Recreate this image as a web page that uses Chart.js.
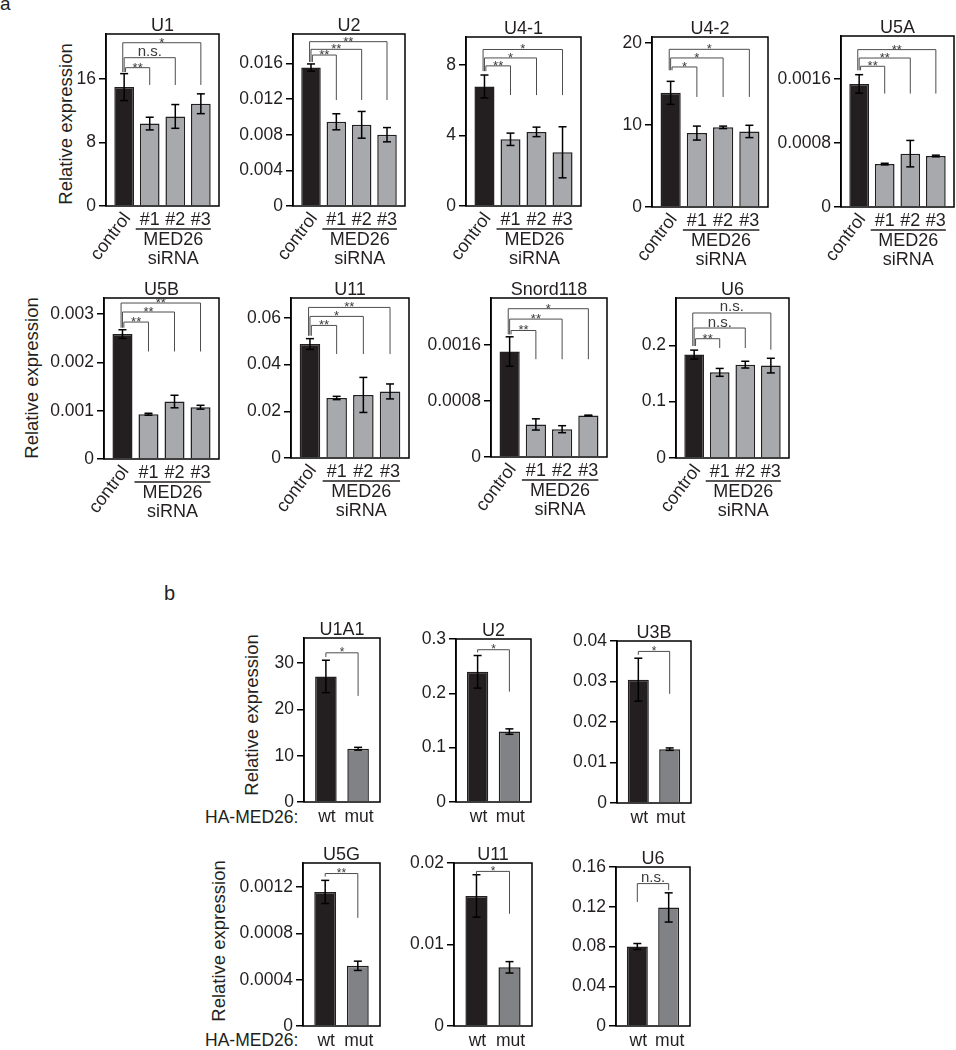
<!DOCTYPE html>
<html><head><meta charset="utf-8">
<script src="https://cdn.jsdelivr.net/npm/chart.js@4"></script>
<style>
body{margin:0;background:#fff;width:956px;height:1050px;position:relative;overflow:hidden;font-family:'Liberation Sans',Arial,sans-serif;color:#231f20}
canvas{position:absolute}
.t{position:absolute;white-space:nowrap;line-height:1}
.yt{position:absolute;width:220px;height:22px;line-height:22px;text-align:center;font-size:18.5px;transform:rotate(-90deg);white-space:nowrap}
</style></head><body>
<div class="t" style="left:0;top:-6px;font-size:19px">a</div>
<div class="t" style="left:164px;top:583px;font-size:20px">b</div>
<div class="yt" style="left:-44.5px;top:112.5px">Relative expression</div>
<div class="yt" style="left:-78.3px;top:366.5px">Relative expression</div>
<div class="yt" style="left:141.5px;top:703.5px">Relative expression</div>
<div class="yt" style="left:108.5px;top:930px">Relative expression</div>
<div class="t" style="left:205px;top:808.5px;font-size:17.5px">HA-MED26:</div>
<div class="t" style="left:205px;top:1031.5px;font-size:17.5px">HA-MED26:</div>
<script>
// ---------- categories ----------
const siCategories = ['control', '#1', '#2', '#3'];
const siGroupLabel = ['MED26', 'siRNA'];
const haCategories = ['wt', 'mut'];

// ---------- panel a : MED26 siRNA ----------
const u1Values = [15.0, 10.4, 11.3, 12.9];
const u1Errors = [1.7, 0.8, 1.5, 1.25];
const u1Ticks = ['0', '8', '16'];
const u1Sig = ['**', 'n.s.', '*'];

const u2Values = [0.01554, 0.00945, 0.00911, 0.0080];
const u2Errors = [0.0004, 0.0009, 0.0015, 0.0008];
const u2Ticks = ['0', '0.004', '0.008', '0.012', '0.016'];
const u2Sig = ['**', '**', '**'];

const u41Values = [6.79, 3.79, 4.21, 3.05];
const u41Errors = [0.65, 0.35, 0.27, 1.45];
const u41Ticks = ['0', '4', '8'];
const u41Sig = ['**', '*', '*'];

const u42Values = [13.9, 9.0, 9.7, 9.2];
const u42Errors = [1.4, 0.85, 0.15, 0.75];
const u42Ticks = ['0', '10', '20'];
const u42Sig = ['*', '*', '*'];

const u5aValues = [0.001537, 0.000536, 0.000666, 0.000637];
const u5aErrors = [0.000115, 0.00001, 0.000165, 0.00001];
const u5aTicks = ['0', '0.0008', '0.0016'];
const u5aSig = ['**', '**', '**'];

const u5bValues = [0.002587, 0.000927, 0.00119, 0.001072];
const u5bErrors = [0.00009, 0.00002, 0.00013, 0.00004];
const u5bTicks = ['0', '0.001', '0.002', '0.003'];
const u5bSig = ['**', '**', '**'];

const u11Values = [0.0488, 0.0257, 0.027, 0.0285];
const u11Errors = [0.0023, 0.0007, 0.0075, 0.0032];
const u11Ticks = ['0', '0.02', '0.04', '0.06'];
const u11Sig = ['**', '*', '**'];

const snordValues = [0.001506, 0.000465, 0.000397, 0.000593];
const snordErrors = [0.00021, 0.00008, 0.00005, 0.000005];
const snordTicks = ['0', '0.0008', '0.0016'];
const snordSig = ['**', '**', '*'];

const u6Values = [0.1835, 0.152, 0.1657, 0.164];
const u6Errors = [0.008, 0.007, 0.006, 0.013];
const u6Ticks = ['0', '0.1', '0.2'];
const u6Sig = ['**', 'n.s.', 'n.s.'];

// ---------- panel b : HA-MED26 wt / mut ----------
const bU1a1Values = [27.1, 11.5];
const bU1a1Errors = [3.5, 0.3];
const bU1a1Ticks = ['0', '10', '20', '30'];
const bU1a1Sig = ['*'];

const bU2Values = [0.2396, 0.1296];
const bU2Errors = [0.03, 0.005];
const bU2Ticks = ['0', '0.1', '0.2', '0.3'];
const bU2Sig = ['*'];

const bU3bValues = [0.03045, 0.0133];
const bU3bErrors = [0.0053, 0.0003];
const bU3bTicks = ['0', '0.01', '0.02', '0.03', '0.04'];
const bU3bSig = ['*'];

const bU5gValues = [0.001158, 0.00052];
const bU5gErrors = [0.0001, 0.00004];
const bU5gTicks = ['0', '0.0004', '0.0008', '0.0012'];
const bU5gSig = ['**'];

const bU11Values = [0.01596, 0.0072];
const bU11Errors = [0.0026, 0.0007];
const bU11Ticks = ['0', '0.01', '0.02'];
const bU11Sig = ['*'];

const bU6Values = [0.08, 0.1193];
const bU6Errors = [0.003, 0.0147];
const bU6Ticks = ['0', '0.04', '0.08', '0.12', '0.16'];
const bU6Sig = ['n.s.'];

// ---------- layout (positions / axis ranges / bracket heights in data units) ----------
const FONT = "'Liberation Sans', Arial, sans-serif";
const DARK = '#231f20', GRAY_A = '#a7a9ac', GRAY_B = '#808285';

const panels = [
  {kind:'a', title:'U1', vals:u1Values, errs:u1Errors, ticks:u1Ticks, sig:u1Sig, box:[106,34,219,206], ymax:21.7, levels:[17.45,18.71,20.6], start:16.9, ends:[15.27,15.27,15.27]},
  {kind:'a', title:'U2', vals:u2Values, errs:u2Errors, ticks:u2Ticks, sig:u2Sig, box:[293,34,405,206], ymax:0.0193, levels:[0.01694,0.01758,0.01844], start:0.01616, ends:[0.01189,0.01189,0.01189]},
  {kind:'a', title:'U4-1', vals:u41Values, errs:u41Errors, ticks:u41Ticks, sig:u41Sig, box:[466,37,581,206], ymax:9.6, levels:[7.96,8.41,8.89], start:7.66, ends:[6.3,6.3,6.3]},
  {kind:'a', title:'U4-2', vals:u42Values, errs:u42Errors, ticks:u42Ticks, sig:u42Sig, box:[652,37,768,207], ymax:20.7, levels:[17.05,18.15,19.2], start:16.65, ends:[13.4,13.4,13.4]},
  {kind:'a', title:'U5A', vals:u5aValues, errs:u5aErrors, ticks:u5aTicks, sig:u5aSig, box:[841,36,954,207], ymax:0.002135, levels:[0.001757,0.00186,0.001965], start:0.001707, ends:[0.001416,0.001416,0.001416]},
  {kind:'a', title:'U5B', vals:u5bValues, errs:u5bErrors, ticks:u5bTicks, sig:u5bSig, box:[104,298,219,459], ymax:0.003334, levels:[0.002836,0.003044,0.00323], start:0.002718, ends:[0.002226,0.002226,0.002226]},
  {kind:'a', title:'U11', vals:u11Values, errs:u11Errors, ticks:u11Ticks, sig:u11Sig, box:[291,298,409,458], ymax:0.0685, levels:[0.05676,0.06062,0.06447], start:0.05235, ends:[0.04452,0.04452,0.04452]},
  {kind:'a', title:'Snord118', vals:snordValues, errs:snordErrors, ticks:snordTicks, sig:snordSig, box:[491,298,607,457], ymax:0.00227, levels:[0.001806,0.001969,0.002117], start:0.00175, ends:[0.001396,0.001396,0.001396]},
  {kind:'a', title:'U6', vals:u6Values, errs:u6Errors, ticks:u6Ticks, sig:u6Sig, box:[676,298,789,458], ymax:0.284, levels:[0.2117,0.2307,0.2574], start:0.1988, ends:[0.1952,0.1952,0.1922]},
  {kind:'b', title:'U1A1', vals:bU1a1Values, errs:bU1a1Errors, ticks:bU1a1Ticks, sig:bU1a1Sig, box:[304,638,380,802], ymax:35.4, levels:[32.2], start:31.3, ends:[22.9]},
  {kind:'b', title:'U2', vals:bU2Values, errs:bU2Errors, ticks:bU2Ticks, sig:bU2Sig, box:[456,639,531,802], ymax:0.3, levels:[0.2803], start:0.2753, ends:[0.2032]},
  {kind:'b', title:'U3B', vals:bU3bValues, errs:bU3bErrors, ticks:bU3bTicks, sig:bU3bSig, box:[617,641,691,803], ymax:0.04, levels:[0.03743], start:0.0366, ends:[0.02696]},
  {kind:'b', title:'U5G', vals:bU5gValues, errs:bU5gErrors, ticks:bU5gTicks, sig:bU5gSig, box:[303,863,380,1026], ymax:0.001408, levels:[0.001317], start:0.00129, ends:[0.000934]},
  {kind:'b', title:'U11', vals:bU11Values, errs:bU11Errors, ticks:bU11Ticks, sig:bU11Sig, box:[454,863,532,1026], ymax:0.02, levels:[0.01897], start:0.01856, ends:[0.01377]},
  {kind:'b', title:'U6', vals:bU6Values, errs:bU6Errors, ticks:bU6Ticks, sig:bU6Sig, box:[616,867,690,1026], ymax:0.16, levels:[0.1433], start:0.1248, ends:[0.1366]}
];

function line(ctx, x1, y1, x2, y2){ ctx.beginPath(); ctx.moveTo(x1,y1); ctx.lineTo(x2,y2); ctx.stroke(); }

function makePanel(p){
  const padL = 72, padT = 45, padR = 12, padB = 80;
  const [x0,y0,x1,y1] = p.box;
  const w = x1 - x0, h = y1 - y0;
  const W = w + padL + padR, H = h + padT + padB;
  const cv = document.createElement('canvas');
  cv.width = W; cv.height = H;
  cv.style.left = (x0 - padL) + 'px'; cv.style.top = (y0 - padT) + 'px';
  cv.style.width = W + 'px'; cv.style.height = H + 'px';
  document.body.appendChild(cv);
  const isA = p.kind === 'a';
  const cats = isA ? siCategories : haCategories;
  const colors = p.vals.map((v,i) => i === 0 ? DARK : (isA ? GRAY_A : GRAY_B));
  const tickVals = p.ticks.map(Number);

  const deco = {
    id: 'deco',
    afterDatasetsDraw(chart){
      const ctx = chart.ctx, xs = chart.scales.x, ys = chart.scales.y, ca = chart.chartArea;
      ctx.save();
      // error bars
      ctx.strokeStyle = '#000'; ctx.lineWidth = 1.5;
      p.vals.forEach((v,i) => {
        const x = xs.getPixelForValue(i);
        const t = ys.getPixelForValue(v + p.errs[i]);
        const b = ys.getPixelForValue(v - p.errs[i]);
        line(ctx, x, t, x, b); line(ctx, x-4, t, x+4, t); line(ctx, x-4, b, x+4, b);
      });
      // box
      ctx.strokeStyle = '#000'; ctx.lineWidth = 1.5;
      ctx.strokeRect(ca.left, ca.top, ca.right - ca.left, ca.bottom - ca.top);
      // significance brackets
      p.sig.forEach((s,k) => {
        const to = isA ? k + 1 : 1;
        const xL = xs.getPixelForValue(0) + (isA ? (1 - k) * 1.4 : 0);
        const xR = xs.getPixelForValue(to);
        const yS = ys.getPixelForValue(p.start), yLev = ys.getPixelForValue(p.levels[k]), yE = ys.getPixelForValue(p.ends[k]);
        ctx.strokeStyle = '#4d4d4d'; ctx.lineWidth = 1;
        ctx.beginPath(); ctx.moveTo(xL, yS); ctx.lineTo(xL, yLev); ctx.lineTo(xR, yLev); ctx.lineTo(xR, yE); ctx.stroke();
        ctx.fillStyle = '#3a3a3a'; ctx.textAlign = 'center'; ctx.textBaseline = 'alphabetic';
        const star = s.indexOf('*') >= 0;
        const fs = star ? (isA ? 13 : 12) : 15;
        ctx.font = fs + 'px ' + FONT;
        ctx.fillText(s, (xL + xR) / 2, star ? yLev + 0.3 * fs : yLev - 1.5);
      });
      // title
      ctx.fillStyle = DARK; ctx.font = '18px ' + FONT; ctx.textAlign = 'center'; ctx.textBaseline = 'alphabetic';
      ctx.fillText(p.title, (ca.left + ca.right) / 2, ca.top - 3);
      // category labels
      const bot = ca.bottom;
      if (isA) {
        ctx.font = '18px ' + FONT;
        ctx.save();
        ctx.translate(xs.getPixelForValue(0) + 3, bot + 9);
        ctx.rotate(-53 * Math.PI / 180);
        ctx.textAlign = 'right'; ctx.textBaseline = 'middle';
        ctx.fillText(cats[0], 0, 0);
        ctx.restore();
        ctx.textAlign = 'center'; ctx.textBaseline = 'middle';
        for (let k = 1; k < cats.length; k++) ctx.fillText(cats[k], xs.getPixelForValue(k), bot + 14);
        const c1 = xs.getPixelForValue(1), c3 = xs.getPixelForValue(cats.length - 1);
        ctx.strokeStyle = DARK; ctx.lineWidth = 1.5;
        line(ctx, c1 - 14, bot + 23, c3 + 10, bot + 23);
        ctx.fillText(siGroupLabel[0], (c1 + c3) / 2 - 2, bot + 34);
        ctx.fillText(siGroupLabel[1], (c1 + c3) / 2 - 2, bot + 53);
      } else {
        ctx.font = '17.5px ' + FONT; ctx.textAlign = 'center'; ctx.textBaseline = 'middle';
        cats.forEach((c,i) => ctx.fillText(c, xs.getPixelForValue(i) + 1, bot + 15));
      }
      ctx.restore();
    }
  };

  new Chart(cv, {
    type: 'bar',
    data: { datasets: [{
      data: p.vals.map((v,i) => ({x: i, y: v})),
      backgroundColor: colors,
      borderColor: DARK,
      borderWidth: 1.5,
      borderSkipped: 'start',
      barPercentage: isA ? 0.77 : 0.67,
      categoryPercentage: 1
    }]},
    options: {
      responsive: false, animation: false, devicePixelRatio: 1,
      layout: { padding: {top: padT, right: padR, left: 0, bottom: 0}, autoPadding: false },
      plugins: { legend: {display: false}, tooltip: {enabled: false}, title: {display: false} },
      scales: {
        x: {
          type: 'linear', offset: false, min: isA ? -0.71 : -0.68, max: isA ? 3.71 : 1.68,
          ticks: {display: false}, grid: {display: false}, border: {display: false},
          afterFit(s){ s.height = padB; }
        },
        y: {
          min: 0, max: p.ymax,
          afterBuildTicks(s){ s.ticks = tickVals.map(v => ({value: v})); },
          ticks: { callback: (v, i) => p.ticks[i], font: {family: FONT, size: 17.5}, color: DARK, padding: 3, autoSkip: false },
          grid: { drawOnChartArea: false, drawTicks: true, tickLength: 7, color: '#000', lineWidth: 1.5 },
          border: { display: true, color: '#000', width: 1.5 },
          afterFit(s){ s.width = padL; }
        }
      }
    },
    plugins: [deco]
  });
}

panels.forEach(makePanel);
</script>
</body></html>
